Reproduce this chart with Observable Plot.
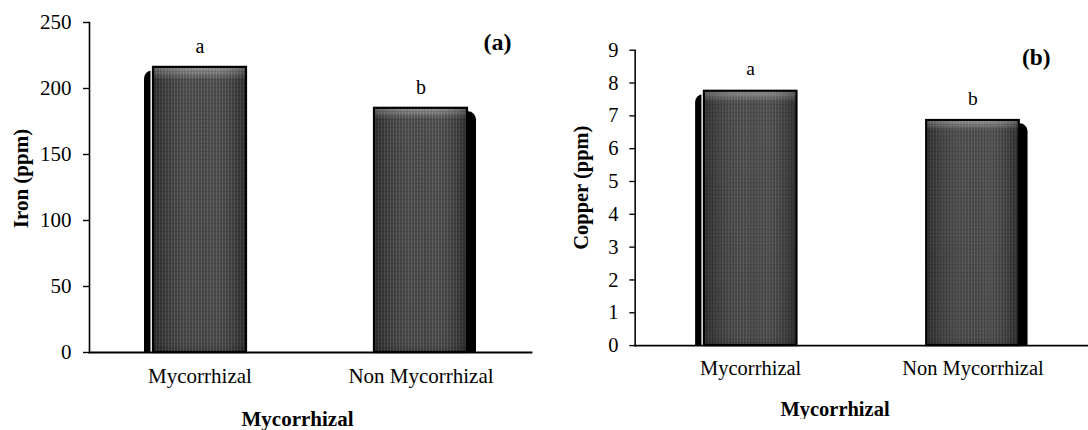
<!DOCTYPE html>
<html><head><meta charset="utf-8">
<script src="https://cdn.jsdelivr.net/npm/d3@7"></script>
<script src="https://cdn.jsdelivr.net/npm/@observablehq/plot@0.6"></script>
<style>
body{margin:0;background:#fff;}
#wrap{position:relative;width:1088px;height:430px;overflow:hidden;background:#fff;}
#left{position:absolute;left:0;top:0;}
#right{position:absolute;left:544px;top:0;}
svg{display:block;}
</style></head><body>
<svg width="0" height="0" style="position:absolute">
<defs>
 <linearGradient id="bevel" x1="0" y1="0" x2="0" y2="1">
  <stop offset="0" stop-color="#858585"/>
  <stop offset="0.02" stop-color="#6e6e6e"/>
  <stop offset="0.045" stop-color="#3e3e3e"/>
  <stop offset="0.97" stop-color="#393939"/>
  <stop offset="1" stop-color="#2c2c2c"/>
 </linearGradient>
 <linearGradient id="sheen" x1="0" y1="0" x2="1" y2="0">
  <stop offset="0" stop-color="#000" stop-opacity="0.25"/>
  <stop offset="0.55" stop-color="#fff" stop-opacity="0.06"/>
  <stop offset="1" stop-color="#000" stop-opacity="0.3"/>
 </linearGradient>
 <pattern id="tex" width="3" height="4" patternUnits="userSpaceOnUse">
  <rect x="0" y="0" width="1" height="4" fill="#fff" fill-opacity="0.12"/>
  <rect x="0" y="3" width="3" height="1" fill="#000" fill-opacity="0.14"/>
 </pattern>
</defs></svg>
<div id="wrap"><div id="left"></div><div id="right"></div></div>
<script>
// ---- data ----
const categories = ["Mycorrhizal", "Non Mycorrhizal"];
const ironValues = [216, 185];
const copperValues = [7.75, 6.86];
const ironLetters = ["a", "b"];
const copperLetters = ["a", "b"];
const ironTicks = [0, 50, 100, 150, 200, 250];
const copperTicks = [0, 1, 2, 3, 4, 5, 6, 7, 8, 9];
const xTitle = "Mycorrhizal";
const ironLabel = "Iron (ppm)";
const copperLabel = "Copper (ppm)";
const ironTag = "(a)";
const copperTag = "(b)";

const FONT = "'Liberation Serif', 'Times New Roman', serif";

function chart(o) {
  const rows = categories.map((c, i) => ({cat: c, v: o.values[i], letter: o.letters[i]}));
  const xy = {x: "cat", y: "v"};
  return Plot.plot({
    width: o.width, height: 430,
    marginLeft: o.marginLeft, marginRight: o.marginRight,
    marginTop: o.marginTop, marginBottom: o.marginBottom,
    style: {fontFamily: FONT, fontSize: "21px", color: "#000", background: "transparent"},
    x: {domain: categories, paddingInner: o.pi, paddingOuter: o.po},
    y: {domain: [0, o.max]},
    marks: [
      Plot.barY(rows.slice(0, 1), {...xy, fill: "#000", dx: -9, insetTop: 3.5, insetBottom: -14, rx: 8, clip: true}),
      Plot.barY(rows.slice(1), {...xy, fill: "#000", dx: 9, insetTop: 3.5, insetBottom: -14, rx: 8, clip: true}),
      Plot.barY(rows.slice(0, 1), {...xy, fill: "none", stroke: "#fff", strokeWidth: 5}),
      Plot.barY(rows, {...xy, fill: "url(#bevel)"}),
      Plot.barY(rows, {...xy, fill: "url(#tex)"}),
      Plot.barY(rows, {...xy, fill: "url(#sheen)"}),
      Plot.barY(rows, {...xy, fill: "none", stroke: "#000", strokeWidth: 2.2}),
      Plot.frame({anchor: "left", stroke: "#000", strokeWidth: 1.6}),
      Plot.frame({anchor: "bottom", stroke: "#000", strokeWidth: 1.8}),
      Plot.axisY({ticks: o.ticks, tickFormat: d => String(d), tickSize: o.tickSize, tickPadding: o.tickPadding, label: null, fontSize: 21, strokeWidth: 1.4}),
      Plot.axisX({tickSize: 0, tickPadding: 15.5, label: null, fontSize: 21}),
      Plot.text(rows, {...xy, text: "letter", dy: o.letterDy, lineAnchor: "middle", fontSize: 20}),
      Plot.text([xTitle], {text: d => d, frameAnchor: "bottom", dx: o.xTitleDx, dy: o.xTitleDy, textAnchor: "middle", lineAnchor: "middle", fontWeight: "bold", fontSize: 21}),
      Plot.text([o.yLabel], {text: d => d, frameAnchor: "left", rotate: -90, dx: o.yTitleDx, dy: o.yTitleDy, textAnchor: "middle", lineAnchor: "middle", fontWeight: "bold", fontSize: 21}),
      Plot.text([o.tag], {text: d => d, frameAnchor: "top-right", dx: o.tagDx, dy: o.tagDy, textAnchor: "middle", lineAnchor: "middle", fontWeight: "bold", fontSize: 24})
    ]
  });
}

document.getElementById("left").append(chart({
  values: ironValues, letters: ironLetters, ticks: ironTicks, max: 250,
  yLabel: ironLabel, tag: ironTag,
  width: 544, marginLeft: 89, marginRight: 13, marginTop: 22, marginBottom: 78,
  pi: 0.58, po: 0.29, tickSize: 6, tickPadding: 12,
  letterDy: -20.7, xTitleDx: -13, xTitleDy: 67, yTitleDx: -68, yTitleDy: -9,
  tagDx: -34, tagDy: 20.3
}));

document.getElementById("right").append(chart({
  values: copperValues, letters: copperLetters, ticks: copperTicks, max: 9,
  yLabel: copperLabel, tag: copperTag,
  width: 558, marginLeft: 93, marginRight: 0, marginTop: 51, marginBottom: 76,
  pi: 0.585, po: 0.308, tickSize: 5.5, tickPadding: 11.5,
  letterDy: -22.7, xTitleDx: -27.5, xTitleDy: 65, yTitleDx: -55, yTitleDy: -10.5,
  tagDx: -53.5, tagDy: 7.3
}));
</script>
</body></html>
